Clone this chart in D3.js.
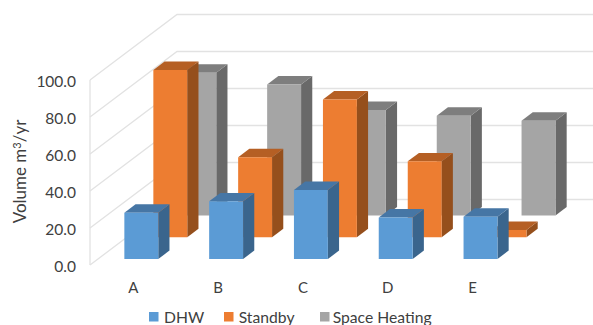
<!DOCTYPE html>
<html>
<head>
<meta charset="utf-8">
<script src="https://cdn.jsdelivr.net/npm/d3@7"></script>
<style>
html,body{margin:0;padding:0;background:#fff}
svg{display:block}
text{font-family:"Lato","Open Sans",sans-serif;fill:#404040}
</style>
</head>
<body>
<svg id="chart" width="593" height="325"></svg>
<script>
const categories = ["A", "B", "C", "D", "E"];
const seriesNames = ["DHW", "Standby", "Space Heating"];
const dhw = [25.0, 31.2, 37.3, 22.5, 22.9];
const standby = [90.4, 43.2, 74.5, 41.0, 3.9];
const spaceHeating = [77.1, 70.8, 57.0, 53.9, 51.2];
const yTicks = [0, 20, 40, 60, 80, 100];
const seriesValues = [dhw, standby, spaceHeating];
const seriesColors = [
  {front: "#5B9BD5", top: "#4676A5", side: "#3A658D"},
  {front: "#ED7D31", top: "#B55F24", side: "#954F1C"},
  {front: "#A5A5A5", top: "#7E7E7E", side: "#696969"}
];

const svg = d3.select("#chart");

// Oblique projection: value and category on the front plane, depth runs up and to the right.
const y = d3.scaleLinear().domain([0, 100]).range([265, 80]);
const x = d3.scaleBand().domain(categories).range([91, 515]).paddingInner(0.6).paddingOuter(0.3);
const depthX = d3.scaleLinear().domain([0, 1]).range([0, 87]);
const depthY = d3.scaleLinear().domain([0, 1]).range([0, -65.5]);
const project = (px, value, d) => [px + depthX(d), y(value) + depthY(d)];
const line = d3.line();

// Walls and gridlines
const grid = svg.append("g").attr("fill", "none").attr("stroke", "#E2E2E2").attr("stroke-width", 1.3);
grid.append("path").attr("d", line([project(90, 0, 0), project(90, 100, 0)]));
yTicks.forEach(t => {
  grid.append("path").attr("d", line([project(90, t, 0), project(90, t, 1), [593, y(t) + depthY(1)]]));
});

// Series slots along the depth axis, back series painted first
const slot = i => ({near: (6 + 22 * i) / 66, far: (14.5 + 22 * i) / 66});
d3.range(seriesValues.length - 1, -1, -1).forEach(i => {
  const c = seriesColors[i], s = slot(i);
  const g = svg.append("g").attr("class", "series");
  const bars = g.selectAll("g").data(categories.map((k, j) => ({k, v: seriesValues[i][j]}))).join("g");
  const w = x.bandwidth();
  bars.append("path").attr("fill", c.side).attr("d", b => {
    const r = x(b.k) + w;
    return line([project(r, 0, s.near), project(r, b.v, s.near), project(r, b.v, s.far), project(r, 0, s.far)]) + "Z";
  });
  bars.append("path").attr("fill", c.top).attr("d", b => {
    const l = x(b.k), r = l + w;
    return line([project(l, b.v, s.near), project(r, b.v, s.near), project(r, b.v, s.far), project(l, b.v, s.far)]) + "Z";
  });
  bars.append("path").attr("fill", c.front).attr("d", b => {
    const l = x(b.k), r = l + w;
    return line([project(l, 0, s.near), project(r, 0, s.near), project(r, b.v, s.near), project(l, b.v, s.near)]) + "Z";
  });
});

// Value axis labels
svg.append("g").selectAll("text").data(yTicks).join("text")
  .attr("x", 76).attr("y", d => y(d) + 1.5).attr("dy", "0.35em")
  .attr("text-anchor", "end").attr("font-size", 15.5)
  .text(d => d3.format(".1f")(d));

// Category labels
svg.append("g").selectAll("text").data(categories).join("text")
  .attr("x", d => x(d) + x.bandwidth() / 2).attr("y", 288)
  .attr("dy", "0.35em").attr("text-anchor", "middle").attr("font-size", 15)
  .text(d => d);

// Value axis title with superscript exponent
const title = svg.append("text").attr("transform", "translate(26,171.5) rotate(-90)")
  .attr("text-anchor", "middle").attr("font-size", 17);
title.append("tspan").text("Volume m");
title.append("tspan").attr("dy", -5).attr("font-size", 11).text("3");
title.append("tspan").attr("dy", 5).text("/yr");

// Legend
const legendX = [149, 224, 320];
const legendText = [15, 14.7, 12.7];
const legend = svg.append("g").selectAll("g").data(seriesNames).join("g")
  .attr("transform", (d, i) => `translate(${legendX[i]},312)`);
legend.append("rect").attr("width", 9.5).attr("height", 9.5).attr("fill", (d, i) => seriesColors[i].front);
legend.append("text").attr("x", (d, i) => legendText[i]).attr("y", 5).attr("dy", "0.35em").attr("font-size", 15.7).text(d => d);
</script>
</body>
</html>
